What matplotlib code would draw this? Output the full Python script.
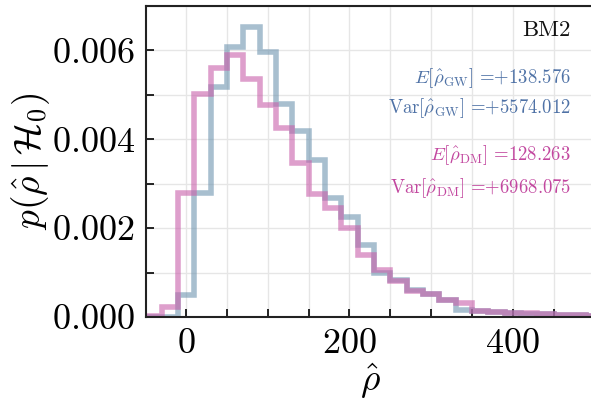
import numpy as np
import matplotlib
matplotlib.use('Agg')
import matplotlib.pyplot as plt
from matplotlib.ticker import MultipleLocator

plt.rcParams['font.family'] = 'serif'
plt.rcParams['font.serif'] = ['cmr10']
plt.rcParams['mathtext.fontset'] = 'cm'
plt.rcParams['axes.formatter.use_mathtext'] = True

# bordes de los bins (ancho 20)
bin_edges = [-50, -30, -10, 10, 30, 50, 70, 90, 110, 130, 150, 170, 190, 210,
             230, 250, 270, 290, 310, 330, 350, 370, 390, 410, 430, 450, 470,
             490, 510]

# densidad GW
dens_gw = [0.0, 0.00001, 0.0005, 0.00279, 0.00518, 0.00608, 0.00653, 0.00597,
           0.0048, 0.00418, 0.00354, 0.00268, 0.00226, 0.00162, 0.00100,
           0.00084, 0.00060, 0.00052, 0.00039, 0.00016, 0.00013, 0.00011,
           0.00009, 0.00007, 0.00006, 0.00005, 0.00004, 0.00003]

# densidad DM
dens_dm = [0.00002, 0.00022, 0.0028, 0.00502, 0.00561, 0.00589, 0.00536,
           0.00478, 0.00425, 0.00347, 0.00277, 0.00245, 0.00200, 0.00140,
           0.00106, 0.00081, 0.00059, 0.00052, 0.00038, 0.00031, 0.00014,
           0.00011, 0.0001, 0.00008, 0.00006, 0.00005, 0.00004, 0.00003]

label_bm = 'BM2'
e_gw = '+138.576'
var_gw = '+5574.012'
e_dm = '128.263'
var_dm = '+6968.075'

col_gw = '#6f95b0'
col_dm = '#c860aa'
txt_gw = '#4f72a6'
txt_dm = '#c2479f'

fig = plt.figure(figsize=(5.91, 4.03), dpi=100)
ax = fig.add_axes([146/591, 1-317/403, 1 - 146/591 + 0.006, (317-6)/403])

ax.stairs(dens_gw, bin_edges, color=col_gw, lw=4, alpha=0.6)
ax.stairs(dens_dm, bin_edges, color=col_dm, lw=4, alpha=0.6)

ax.set_xlim(-49, 500)
ax.set_ylim(0, 0.007)

ax.xaxis.set_major_locator(MultipleLocator(200))
ax.xaxis.set_minor_locator(MultipleLocator(50))
ax.yaxis.set_major_locator(MultipleLocator(0.002))
ax.yaxis.set_minor_locator(MultipleLocator(0.001))
ax.tick_params(which='both', direction='in', labelsize=26, top=False, right=False)
ax.tick_params(which='major', length=6, width=1.2, pad=8)
ax.tick_params(which='minor', length=6, width=1.2)
ax.grid(which='both', color='#e6e6e6', lw=1)
ax.set_axisbelow(True)

for s in ['left', 'bottom', 'top']:
    ax.spines[s].set_linewidth(1.5)
    ax.spines[s].set_color('#222222')
ax.spines['right'].set_visible(False)

ax.set_xlabel(r'$\hat{\rho}$', fontsize=27, labelpad=1)
ax.set_ylabel(r'$p(\hat{\rho}\,|\,\mathcal{H}_0)$', fontsize=27, labelpad=0)

xr = 571/591
fig.text(xr, 1-30/403, label_bm, fontsize=16.5, ha='right', va='center', color='#111111')
fig.text(xr, 1-78/403, r'$E[\hat{\rho}_{\rm GW}]\ $=' + e_gw, fontsize=13.5,
         ha='right', va='center', color=txt_gw)
fig.text(xr, 1-108/403, r'$\mathrm{Var}[\hat{\rho}_{\rm GW}]\ $=' + var_gw, fontsize=13.5,
         ha='right', va='center', color=txt_gw)
fig.text(xr, 1-155/403, r'$E[\hat{\rho}_{\rm DM}]\ $=' + e_dm, fontsize=13.5,
         ha='right', va='center', color=txt_dm)
fig.text(xr, 1-188/403, r'$\mathrm{Var}[\hat{\rho}_{\rm DM}]\ $=' + var_dm, fontsize=13.5,
         ha='right', va='center', color=txt_dm)

plt.savefig('out.png', dpi=100)
